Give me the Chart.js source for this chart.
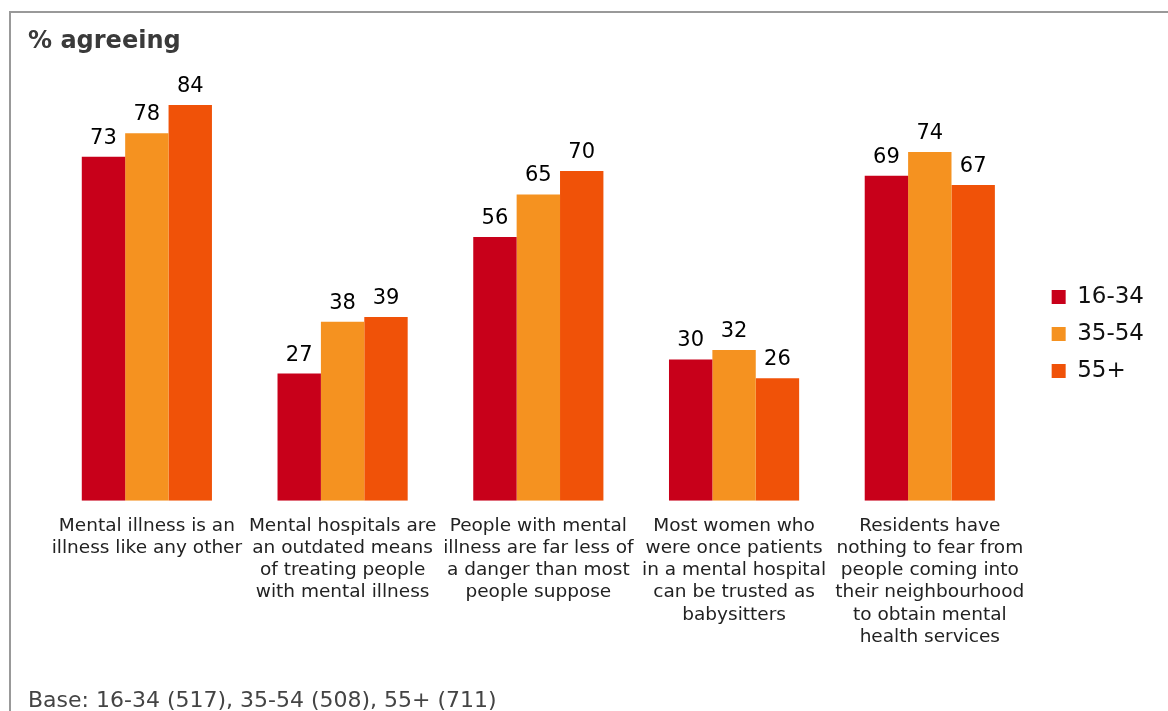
<!DOCTYPE html>
<html>
<head>
<meta charset="utf-8">
<script src="https://cdn.jsdelivr.net/npm/chart.js@4"></script>
<style>
    body { margin: 0; background: #fff; font-family: Verdana, "DejaVu Sans", sans-serif; overflow: hidden; }
    #frame {
        position: absolute; left: 9px; top: 11px; width: 1400px; height: 900px;
        border-top: 2px solid #999; border-left: 2px solid #999;
    }
    #title {
        position: absolute; left: 28px; top: 26px; margin: 0;
        font-size: 24px; font-weight: bold; color: #3a3a3a;
    }
    #base {
        position: absolute; left: 28px; top: 687px; margin: 0;
        font-size: 22px; color: #444;
    }
    #wrap { position: absolute; left: 0; top: 0; width: 1168px; height: 711px; }
</style>
</head>
<body>
<div id="frame"></div>
<div id="wrap"><canvas id="chart"></canvas></div>
<p id="title">% agreeing</p>
<p id="base">Base: 16-34 (517), 35-54 (508), 55+ (711)</p>
<script>
var statements = [
    ["Mental illness is an", "illness like any other"],
    ["Mental hospitals are", "an outdated means", "of treating people", "with mental illness"],
    ["People with mental", "illness are far less of", "a danger than most", "people suppose"],
    ["Most women who", "were once patients", "in a mental hospital", "can be trusted as", "babysitters"],
    ["Residents have", "nothing to fear from", "people coming into", "their neighbourhood", "to obtain mental", "health services"]
];
var ageGroups = ["16-34", "35-54", "55+"];
var age16to34 = [73, 27, 56, 30, 69];
var age35to54 = [78, 38, 65, 32, 74];
var age55plus = [84, 39, 70, 26, 67];
var groupColors = ["#C8001A", "#F59220", "#F05208"];

// writes the value above each bar
var valueLabels = {
    id: "valueLabels",
    afterDatasetsDraw: function(chart) {
        var ctx = chart.ctx;
        ctx.save();
        ctx.font = "21px Verdana, 'DejaVu Sans', sans-serif";
        ctx.fillStyle = "#000";
        ctx.textAlign = "center";
        ctx.textBaseline = "alphabetic";
        chart.data.datasets.forEach(function(ds, i) {
            chart.getDatasetMeta(i).data.forEach(function(bar, j) {
                ctx.fillText(ds.data[j], bar.x, bar.y - 13);
            });
        });
        ctx.restore();
    }
};

Chart.defaults.font.family = "Verdana, 'DejaVu Sans', sans-serif";

new Chart(document.getElementById("chart"), {
    type: "bar",
    data: {
        labels: statements,
        datasets: [
            { label: ageGroups[0], data: age16to34, backgroundColor: groupColors[0] },
            { label: ageGroups[1], data: age35to54, backgroundColor: groupColors[1] },
            { label: ageGroups[2], data: age55plus, backgroundColor: groupColors[2] }
        ]
    },
    options: {
        responsive: true,
        maintainAspectRatio: false,
        animation: false,
        layout: { padding: { left: 49, right: 14, top: 6, bottom: 49 } },
        datasets: { bar: { categoryPercentage: 0.665, barPercentage: 1 } },
        plugins: {
            legend: {
                position: "right",
                labels: {
                    boxWidth: 14, boxHeight: 14, padding: 14,
                    color: "#111",
                    font: { size: 23 }
                }
            },
            tooltip: { enabled: false }
        },
        scales: {
            x: {
                grid: { display: false, drawTicks: false },
                border: { display: false },
                ticks: {
                    autoSkip: false, maxRotation: 0, padding: 14,
                    color: "#222",
                    font: { size: 18.5 }
                }
            },
            y: {
                position: "right",
                min: 0, max: 105,
                grid: { display: false, drawTicks: false },
                border: { display: false },
                ticks: { display: false },
                // spacer between the bars and the legend
                afterFit: function(scale) { scale.width = 10; }
            }
        }
    },
    plugins: [valueLabels]
});
</script>
</body>
</html>
